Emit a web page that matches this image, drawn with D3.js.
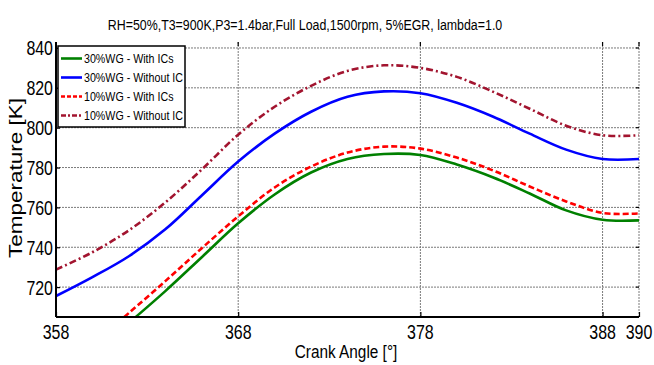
<!DOCTYPE html>
<html>
<head>
<meta charset="utf-8">
<script src="https://cdn.jsdelivr.net/npm/d3@7"></script>
<style>
  body { margin: 0; background: #fff; }
  svg { display: block; }
</style>
</head>
<body>
<div id="chart"></div>
<script>
// Crank angle samples (deg)
const angles = [358, 360, 362, 364, 366, 368, 370, 372, 374, 376, 378, 380, 382, 384, 386, 388, 390];
// the IC curves only come into view after ~361.5 deg
const anglesIC = [361, 362, 364, 366, 368, 370, 372, 374, 376, 378, 380, 382, 384, 386, 388, 390];

// Temperatures [K]
const wg30WithICs = [694, 702, 718, 735, 752, 766.5, 777.5, 784.3, 786.8, 786.3, 781.5, 775, 767, 758.5, 753.8, 753.5];
const wg30WithoutIC = [715.5, 725, 735.5, 749, 766, 783, 797, 808, 815.5, 818.2, 817.3, 812.5, 805.5, 797, 789, 784.3, 784.3];
const wg10WithICs = [699, 707, 723, 739.5, 755.5, 770, 780.5, 787.5, 790.5, 789.5, 785, 778.5, 770.5, 763, 757.2, 757];
const wg10WithoutIC = [728.8, 737.5, 748.5, 762.5, 779, 796.5, 810.5, 821, 828.5, 831.3, 830, 825.5, 818, 809.5, 801, 796.2, 796.2];

const seriesNames = ['30%WG - With ICs', '30%WG - Without IC', '10%WG - With ICs', '10%WG - Without IC'];
const xTicks = [358, 368, 378, 388, 390];
const yTicks = [720, 740, 760, 780, 800, 820, 840];
const titleText = 'RH=50%,T3=900K,P3=1.4bar,Full Load,1500rpm, 5%EGR, lambda=1.0';

const series = [
    { name: seriesNames[0], x: anglesIC, y: wg30WithICs, color: '#008000', dash: null, legendDash: null },
    { name: seriesNames[1], x: angles, y: wg30WithoutIC, color: '#0000ff', dash: null, legendDash: null },
    { name: seriesNames[2], x: anglesIC, y: wg10WithICs, color: '#ff0000', dash: '6,3', legendDash: '4,2' },
    { name: seriesNames[3], x: angles, y: wg10WithoutIC, color: '#a2142f', dash: '7,3,2,3', legendDash: '5,2,2,2' }
];

const width = 654, height = 365;
const margin = { top: 42, right: 15, bottom: 48, left: 56 };
const font = '"Liberation Sans", Arial, sans-serif';

const svg = d3.select('#chart')
    .append('svg')
    .attr('width', width)
    .attr('height', height);

// horizontally squeezed text, like the original export
function addText(parent, px, py, str, size, sx, anchor) {
    return parent.append('text')
        .attr('transform', `translate(${px},${py}) scale(${sx},1)`)
        .attr('text-anchor', anchor || 'middle')
        .style('font-family', font)
        .style('font-size', size + 'px')
        .attr('fill', '#000')
        .text(str);
}

const x = d3.scaleLinear()
    .domain([358, 390])
    .range([margin.left, width - margin.right]);

const y = d3.scaleLinear()
    .domain([705, 843])
    .range([height - margin.bottom, margin.top]);

// grid
const grid = svg.append('g').attr('class', 'grid');
grid.selectAll('.hgrid')
    .data(yTicks)
    .enter()
    .append('line')
    .attr('x1', x.range()[0])
    .attr('x2', x.range()[1])
    .attr('y1', d => y(d))
    .attr('y2', d => y(d))
    .attr('stroke', '#7a7a7a')
    .attr('stroke-width', 1)
    .attr('stroke-dasharray', '2,1');

grid.selectAll('.vgrid')
    .data(xTicks.slice(1))
    .enter()
    .append('line')
    .attr('x1', d => x(d))
    .attr('x2', d => x(d))
    .attr('y1', y.range()[0])
    .attr('y2', y.range()[1])
    .attr('stroke', '#7a7a7a')
    .attr('stroke-width', 1)
    .attr('stroke-dasharray', '2,1');

// small ticks on top and right edges
svg.append('g')
    .selectAll('line')
    .data(xTicks.slice(1))
    .enter()
    .append('line')
    .attr('x1', d => x(d)).attr('x2', d => x(d))
    .attr('y1', y.range()[1]).attr('y2', y.range()[1] + 4)
    .attr('stroke', '#000').attr('stroke-width', 1.2);

svg.append('g')
    .selectAll('line')
    .data(yTicks)
    .enter()
    .append('line')
    .attr('x1', x.range()[1] - 3).attr('x2', x.range()[1])
    .attr('y1', d => y(d)).attr('y2', d => y(d))
    .attr('stroke', '#000').attr('stroke-width', 1.2);

// curves
svg.append('clipPath')
    .attr('id', 'plot-clip')
    .append('rect')
    .attr('x', x.range()[0])
    .attr('y', y.range()[1])
    .attr('width', x.range()[1] - x.range()[0])
    .attr('height', y.range()[0] - y.range()[1]);

const line = d3.line()
    .x(d => x(d[0]))
    .y(d => y(d[1]))
    .curve(d3.curveCatmullRom.alpha(0.5));

svg.append('g')
    .attr('clip-path', 'url(#plot-clip)')
    .selectAll('path')
    .data(series)
    .enter()
    .append('path')
    .attr('d', s => line(s.x.map((a, i) => [a, s.y[i]])))
    .attr('fill', 'none')
    .attr('stroke', s => s.color)
    .attr('stroke-width', 2.6)
    .attr('stroke-dasharray', s => s.dash);

// axes (lines and ticks from d3, labels drawn squeezed below)
const xAxis = d3.axisBottom(x)
    .tickValues(xTicks)
    .tickSize(-5)
    .tickFormat('');

const yAxis = d3.axisLeft(y)
    .tickValues(yTicks)
    .tickSize(-4)
    .tickFormat('');

const gx = svg.append('g')
    .attr('transform', `translate(0,${y.range()[0]})`)
    .call(xAxis);

const gy = svg.append('g')
    .attr('transform', `translate(${x.range()[0]},0)`)
    .call(yAxis);

[gx, gy].forEach(g => {
    g.select('.domain').attr('stroke', '#000').attr('stroke-width', 2);
    g.selectAll('.tick line').attr('stroke', '#000').attr('stroke-width', 1.2);
});
gx.select('.domain').attr('d', `M${x.range()[0]},0H${x.range()[1]}`);
gy.select('.domain').attr('d', `M0,${y.range()[0]}V${y.range()[1]}`);

const tickSize = 21, tickSx = 0.76;
xTicks.forEach(t => addText(svg, x(t), 339, d3.format('d')(t), tickSize, tickSx, 'middle'));
yTicks.forEach(t => addText(svg, 53, y(t) + 0.358 * tickSize, d3.format('d')(t), tickSize, tickSx, 'end'));

// title and axis labels
addText(svg, 305, 29.5, titleText, 15.5, 0.8, 'middle');
addText(svg, 346, 358, 'Crank Angle [°]', 18.5, 0.83, 'middle');

svg.append('text')
    .attr('transform', 'translate(22,178) rotate(-90)')
    .attr('text-anchor', 'middle')
    .attr('textLength', 160)
    .attr('lengthAdjust', 'spacingAndGlyphs')
    .style('font-family', font)
    .style('font-size', '19px')
    .attr('fill', '#000')
    .text('Temperature [K]');

// legend
const legend = svg.append('g')
    .attr('class', 'legend')
    .attr('transform', 'translate(58,46)');

legend.append('rect')
    .attr('width', 127)
    .attr('height', 81)
    .attr('fill', '#fff')
    .attr('stroke', '#000')
    .attr('stroke-width', 1.5);

const items = legend.selectAll('.legend-item')
    .data(series)
    .enter()
    .append('g')
    .attr('class', 'legend-item')
    .attr('transform', (d, i) => `translate(0,${12.5 + i * 19})`);

items.append('line')
    .attr('x1', 3)
    .attr('x2', 24)
    .attr('stroke', d => d.color)
    .attr('stroke-width', 2.6)
    .attr('stroke-dasharray', d => d.legendDash);

items.each(function(d) {
    addText(d3.select(this), 26, 4.5, d.name, 12, 0.89, 'start');
});
</script>
</body>
</html>
